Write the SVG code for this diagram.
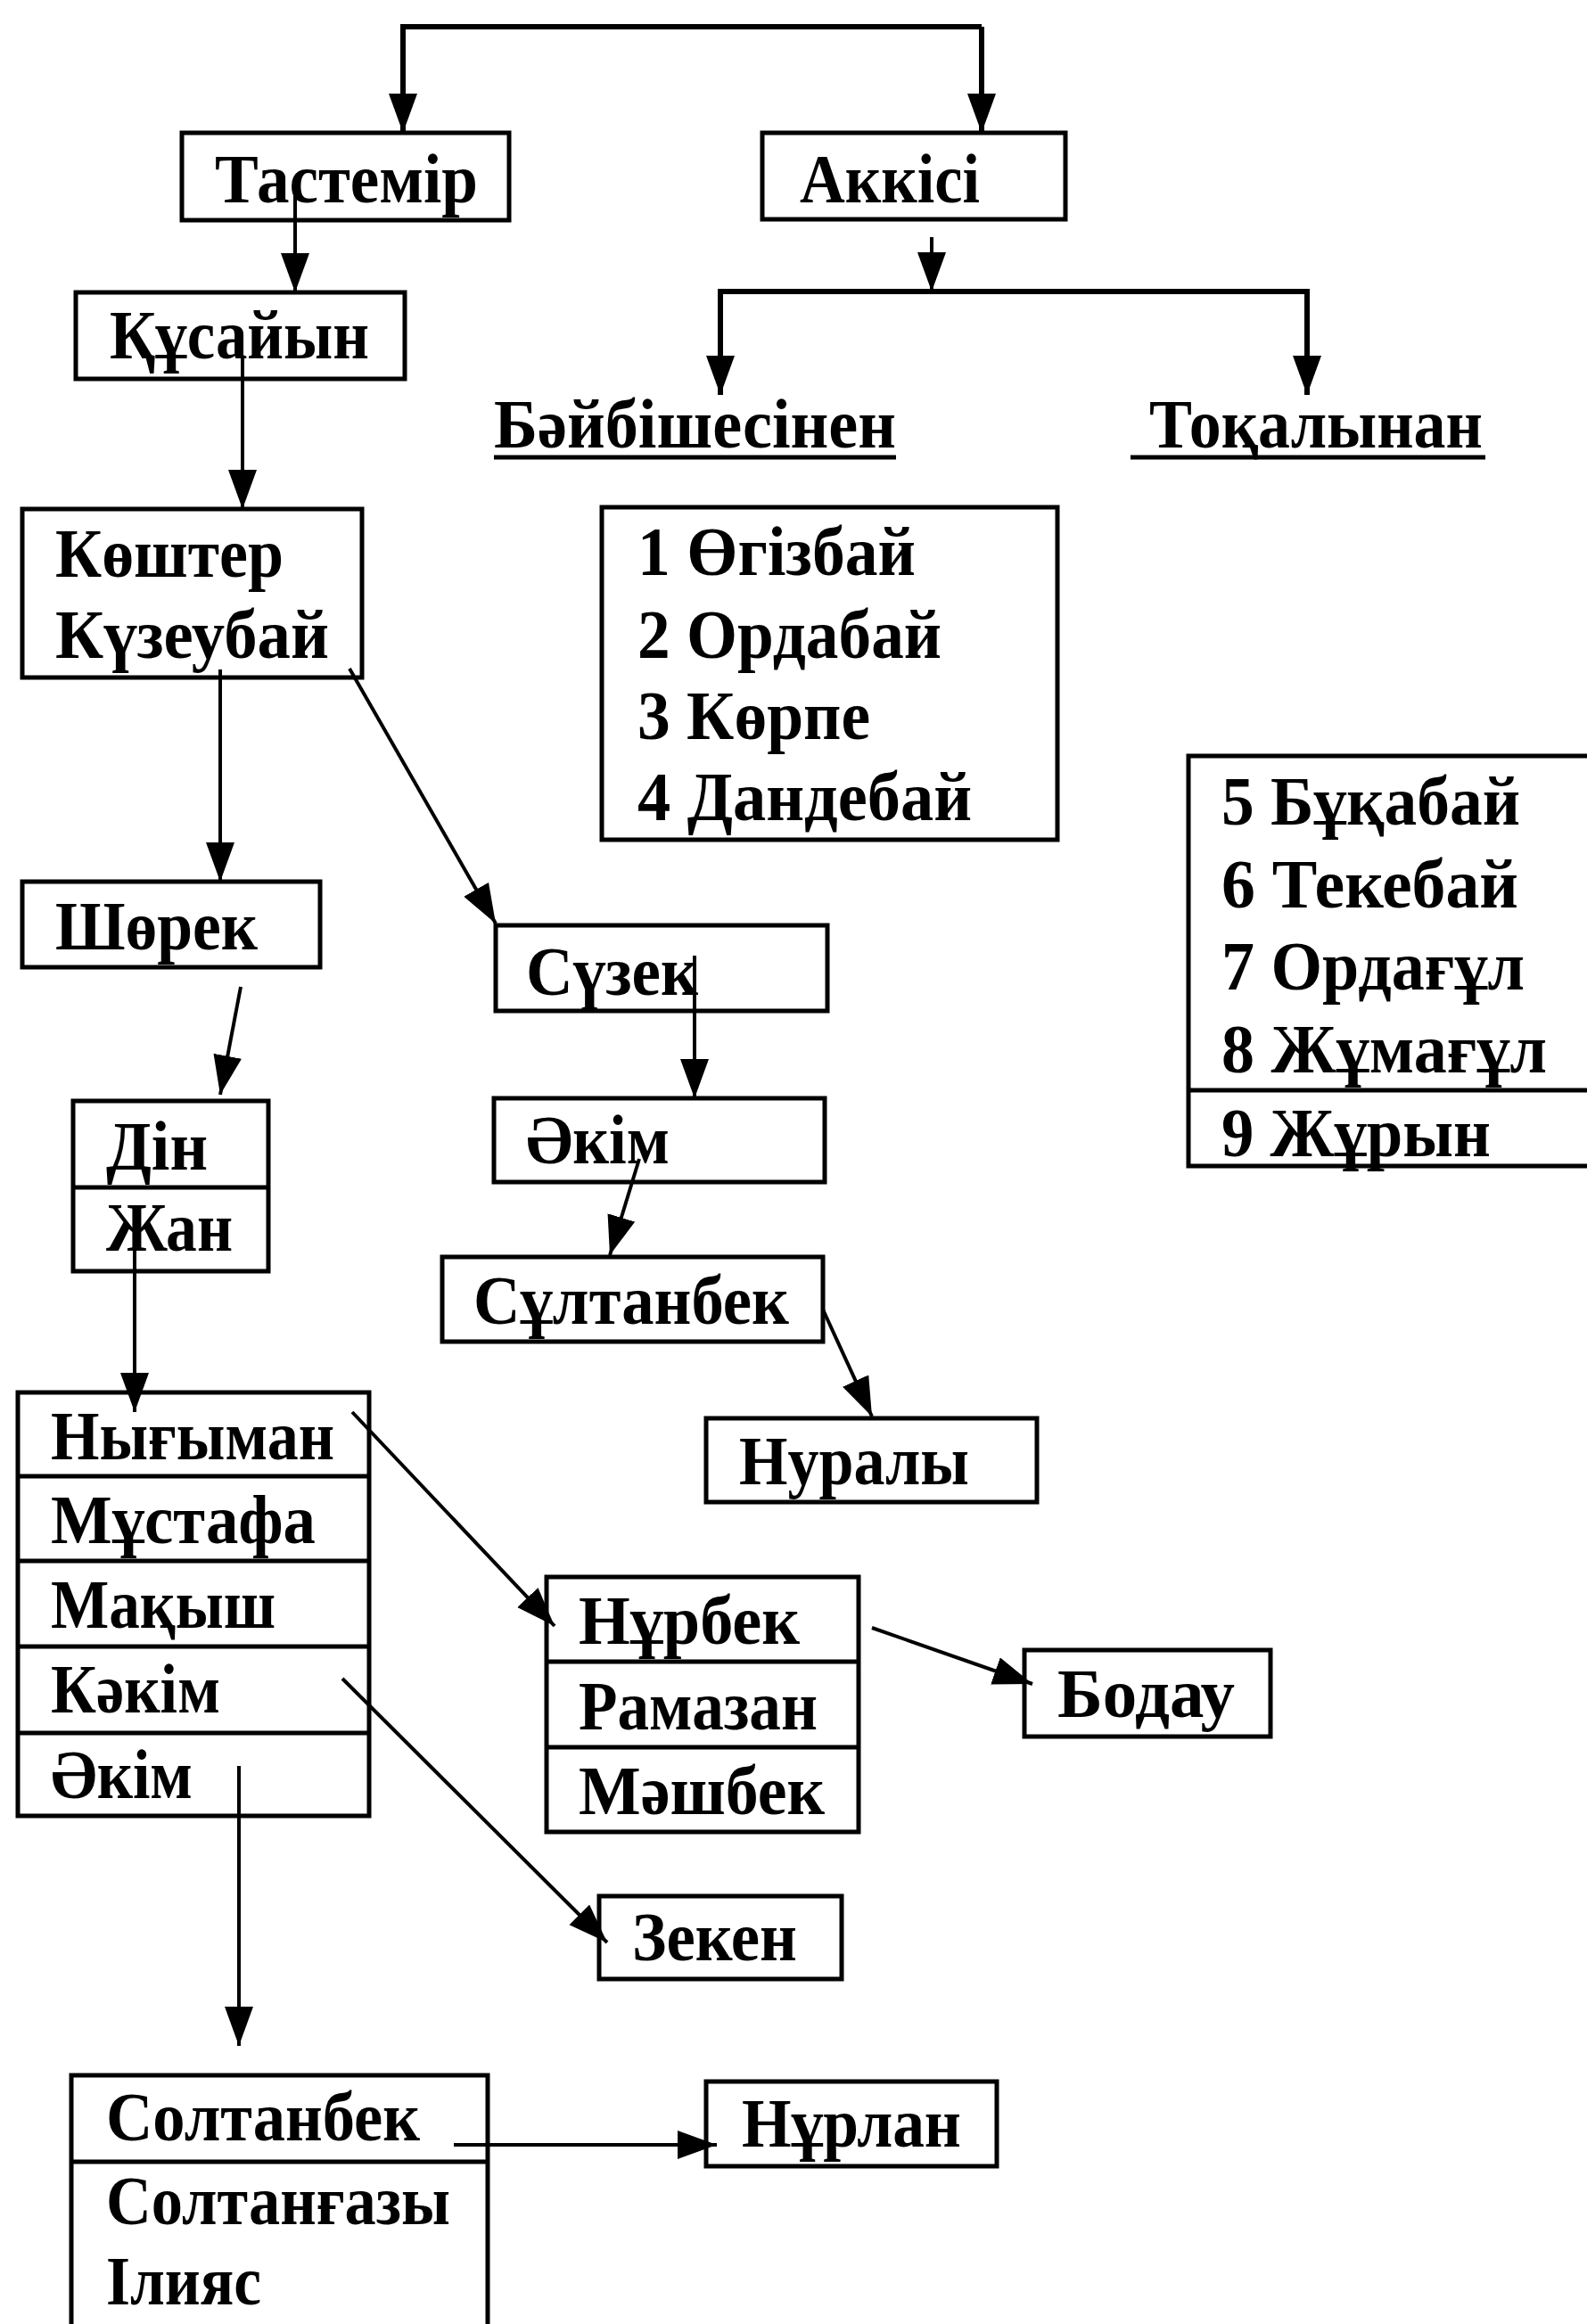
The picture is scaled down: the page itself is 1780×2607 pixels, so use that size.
<svg xmlns="http://www.w3.org/2000/svg" width="1780" height="2607" viewBox="0 0 1780 2607">
<style>
rect.box{fill:none;stroke:#000;stroke-width:5}
line.sep{stroke:#000;stroke-width:5}
text{font-family:"Liberation Serif","DejaVu Serif",serif;font-weight:bold;font-size:78px;fill:#000}
.conn path{fill:none;stroke:#000;stroke-width:4;marker-end:url(#ah)}
.conn path.thick{stroke-width:6}
line.ul{stroke:#000;stroke-width:5}
</style>
<defs>
<marker id="ah" markerUnits="userSpaceOnUse" markerWidth="46" markerHeight="36" refX="44" refY="16" orient="auto">
<path d="M0,0 L44,16 L0,32 z" fill="#000"/>
</marker>
</defs>
<rect width="1780" height="2607" fill="#fff"/>

<g id="n-tastemir"><rect class="box" x="204" y="149" width="367" height="98"/><text x="241" y="227" textLength="295" lengthAdjust="spacingAndGlyphs">Тастемір</text></g>
<g id="n-akkisi"><rect class="box" x="855" y="149" width="340" height="97"/><text x="897" y="227" textLength="202" lengthAdjust="spacingAndGlyphs">Аккісі</text></g>
<g id="n-kusaiyn"><rect class="box" x="85" y="328" width="369" height="97"/><text x="123" y="402" textLength="291" lengthAdjust="spacingAndGlyphs">Құсайын</text></g>
<g id="n-baibishe"><text x="554" y="502" textLength="451" lengthAdjust="spacingAndGlyphs">Бәйбішесінен</text><line class="ul" x1="554" y1="513" x2="1005" y2="513"/></g>
<g id="n-tokal"><text x="1289" y="502" textLength="374" lengthAdjust="spacingAndGlyphs">Тоқалынан</text><line class="ul" x1="1268" y1="513" x2="1666" y2="513"/></g>
<g id="n-koshter"><rect class="box" x="25" y="571" width="381" height="189"/><text x="62" y="647" textLength="256" lengthAdjust="spacingAndGlyphs">Көштер</text><text x="62" y="738" textLength="307" lengthAdjust="spacingAndGlyphs">Күзеубай</text></g>
<g id="n-list1"><rect class="box" x="675" y="569" width="511" height="373"/>
<text x="715" y="645" textLength="312" lengthAdjust="spacingAndGlyphs">1 Өгізбай</text>
<text x="715" y="738" textLength="341" lengthAdjust="spacingAndGlyphs">2 Ордабай</text>
<text x="715" y="829" textLength="261" lengthAdjust="spacingAndGlyphs">3 Көрпе</text>
<text x="715" y="920" textLength="375" lengthAdjust="spacingAndGlyphs">4 Дандебай</text></g>
<g id="n-list2"><rect class="box" x="1333" y="848" width="480" height="460"/><line class="sep" x1="1333" y1="1223" x2="1780" y2="1223"/>
<text x="1370" y="925" textLength="335" lengthAdjust="spacingAndGlyphs">5 Бұқабай</text>
<text x="1370" y="1018" textLength="333" lengthAdjust="spacingAndGlyphs">6 Текебай</text>
<text x="1370" y="1110" textLength="340" lengthAdjust="spacingAndGlyphs">7 Ордағұл</text>
<text x="1370" y="1203" textLength="365" lengthAdjust="spacingAndGlyphs">8 Жұмағұл</text>
<text x="1370" y="1297" textLength="302" lengthAdjust="spacingAndGlyphs">9 Жұрын</text></g>
<g id="n-shorek"><rect class="box" x="25" y="989" width="334" height="96"/><text x="62" y="1065" textLength="227" lengthAdjust="spacingAndGlyphs">Шөрек</text></g>
<g id="n-suzek"><rect class="box" x="556" y="1038" width="372" height="96"/><text x="590" y="1116" textLength="193" lengthAdjust="spacingAndGlyphs">Сүзек</text></g>
<g id="n-din"><rect class="box" x="82" y="1235" width="219" height="191"/><line class="sep" x1="82" y1="1332" x2="301" y2="1332"/><text x="119" y="1312" textLength="114" lengthAdjust="spacingAndGlyphs">Дін</text><text x="119" y="1403" textLength="142" lengthAdjust="spacingAndGlyphs">Жан</text></g>
<g id="n-akim1"><rect class="box" x="554" y="1232" width="371" height="94"/><text x="590" y="1305" textLength="161" lengthAdjust="spacingAndGlyphs">Әкім</text></g>
<g id="n-sultanbek"><rect class="box" x="496" y="1410" width="427" height="95"/><text x="531" y="1485" textLength="354" lengthAdjust="spacingAndGlyphs">Сұлтанбек</text></g>
<g id="n-nuraly"><rect class="box" x="792" y="1591" width="371" height="94"/><text x="829" y="1665" textLength="258" lengthAdjust="spacingAndGlyphs">Нуралы</text></g>
<g id="n-nygyman"><rect class="box" x="20" y="1562" width="394" height="475"/>
<line class="sep" x1="20" y1="1656" x2="414" y2="1656"/><line class="sep" x1="20" y1="1751" x2="414" y2="1751"/><line class="sep" x1="20" y1="1847" x2="414" y2="1847"/><line class="sep" x1="20" y1="1944" x2="414" y2="1944"/>
<text x="57" y="1637" textLength="318" lengthAdjust="spacingAndGlyphs">Нығыман</text>
<text x="57" y="1731" textLength="297" lengthAdjust="spacingAndGlyphs">Мұстафа</text>
<text x="57" y="1826" textLength="252" lengthAdjust="spacingAndGlyphs">Мақыш</text>
<text x="57" y="1921" textLength="190" lengthAdjust="spacingAndGlyphs">Кәкім</text>
<text x="57" y="2017" textLength="159" lengthAdjust="spacingAndGlyphs">Әкім</text></g>
<g id="n-nurbek"><rect class="box" x="613" y="1769" width="350" height="286"/>
<line class="sep" x1="613" y1="1864" x2="963" y2="1864"/><line class="sep" x1="613" y1="1960" x2="963" y2="1960"/>
<text x="649" y="1844" textLength="248" lengthAdjust="spacingAndGlyphs">Нұрбек</text>
<text x="649" y="1940" textLength="268" lengthAdjust="spacingAndGlyphs">Рамазан</text>
<text x="649" y="2035" textLength="276" lengthAdjust="spacingAndGlyphs">Мәшбек</text></g>
<g id="n-bodau"><rect class="box" x="1149" y="1851" width="276" height="97"/><text x="1186" y="1926" textLength="199" lengthAdjust="spacingAndGlyphs">Бодау</text></g>
<g id="n-zeken"><rect class="box" x="672" y="2127" width="272" height="93"/><text x="709" y="2199" textLength="185" lengthAdjust="spacingAndGlyphs">Зекен</text></g>
<g id="n-soltanbek"><rect class="box" x="80" y="2328" width="467" height="300"/><line class="sep" x1="80" y1="2425" x2="547" y2="2425"/>
<text x="119" y="2401" textLength="352" lengthAdjust="spacingAndGlyphs">Солтанбек</text>
<text x="119" y="2495" textLength="386" lengthAdjust="spacingAndGlyphs">Солтанғазы</text>
<text x="119" y="2585" textLength="174" lengthAdjust="spacingAndGlyphs">Ілияс</text></g>
<g id="n-nurlan"><rect class="box" x="792" y="2335" width="326" height="95"/><text x="832" y="2408" textLength="246" lengthAdjust="spacingAndGlyphs">Нұрлан</text></g>

<g id="connectors" class="conn">
<path class="thick" d="M1101,30 H452 V149"/>
<path class="thick" d="M1101,30 V149"/>
<path d="M331,205 V328"/>
<path d="M272,400 V571"/>
<path d="M1045,266 V327"/>
<path class="thick" d="M1045,327 H808 V443"/>
<path class="thick" d="M1045,327 H1466 V443"/>
<path d="M247,751 V989"/>
<path d="M392,750 L556,1036"/>
<path d="M270,1107 L247,1228"/>
<path d="M779,1072 V1232"/>
<path d="M717,1300 L684,1408"/>
<path d="M923,1469 L978,1589"/>
<path d="M151,1394 V1584"/>
<path d="M395,1584 L622,1824"/>
<path d="M978,1826 L1158,1889"/>
<path d="M384,1883 L681,2179"/>
<path d="M268,1981 V2295"/>
<path d="M509,2406 H804"/>
</g>
</svg>
